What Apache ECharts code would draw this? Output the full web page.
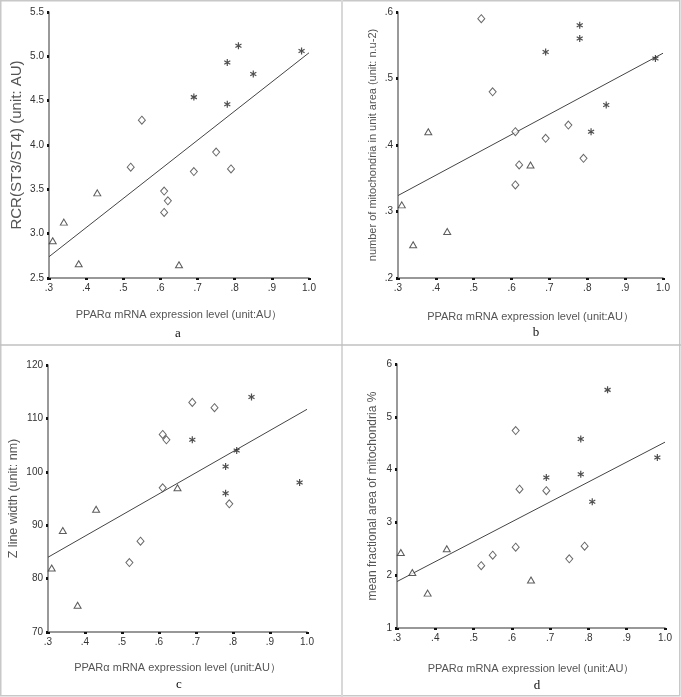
<!DOCTYPE html>
<html>
<head>
<meta charset="utf-8">
<script src="https://cdn.jsdelivr.net/npm/echarts@6/dist/echarts.min.js"></script>
<style>
html,body{margin:0;padding:0;background:#fff;}
#chart{width:681px;height:697px;}
</style>
</head>
<body>
<div id="chart"></div>
<script>
// ---------- data ----------
const xRange = [0.3, 1.0, 0.1];
const xTitle = 'PPARα mRNA expression level (unit:AU）';

// panel a : RCR
const aRange = [2.5, 5.5, 0.5];
const aTri  = [[0.31,2.92],[0.34,3.13],[0.38,2.66],[0.43,3.46],[0.65,2.65]];
const aDia  = [[0.52,3.75],[0.55,4.28],[0.61,3.48],[0.61,3.24],[0.62,3.37],[0.69,3.70],[0.75,3.92],[0.79,3.73]];
const aStar = [[0.69,4.54],[0.78,4.93],[0.78,4.46],[0.81,5.12],[0.85,4.80],[0.98,5.06]];
const aFit  = [[0.3,2.74],[1.0,5.04]];

// panel b : number of mitochondria
const bRange = [0.2, 0.6, 0.1];
const bTri  = [[0.31,0.31],[0.34,0.25],[0.38,0.42],[0.43,0.27],[0.65,0.37]];
const bDia  = [[0.52,0.59],[0.55,0.48],[0.61,0.42],[0.61,0.34],[0.62,0.37],[0.69,0.41],[0.75,0.43],[0.79,0.38]];
const bStar = [[0.69,0.54],[0.78,0.58],[0.78,0.56],[0.81,0.42],[0.85,0.46],[0.98,0.53]];
const bFit  = [[0.3,0.324],[1.0,0.538]];

// panel c : Z line width
const cRange = [70, 120, 10];
const cTri  = [[0.31,82],[0.34,89],[0.38,75],[0.43,93],[0.65,97]];
const cDia  = [[0.52,83],[0.55,87],[0.61,107],[0.62,106],[0.61,97],[0.69,113],[0.75,112],[0.79,94]];
const cStar = [[0.69,106],[0.78,101],[0.78,96],[0.81,104],[0.85,114],[0.98,98]];
const cFit  = [[0.3,84],[1.0,111.7]];

// panel d : mean fractional area
const dRange = [1, 6, 1];
const dTri  = [[0.31,2.43],[0.34,2.05],[0.38,1.66],[0.43,2.50],[0.65,1.91]];
const dDia  = [[0.52,2.18],[0.55,2.38],[0.61,4.74],[0.61,2.53],[0.62,3.63],[0.69,3.60],[0.75,2.31],[0.79,2.55]];
const dStar = [[0.69,3.85],[0.78,4.58],[0.78,3.91],[0.81,3.39],[0.85,5.51],[0.98,4.23]];
const dFit  = [[0.3,1.88],[1.0,4.52]];

const yTitles = ['RCR(ST3/ST4) (unit: AU)','number of mitochondria in unit area (unit: n.u-2)','Z line width (unit: nm)','mean fractional area of mitochondria %'];
const panelLetters = ['a','b','c','d'];

// ---------- layout ----------
const grids = [
  {left:49, top:12, width:260, height:266},
  {left:398, top:12, width:265, height:266},
  {left:48, top:365, width:259, height:267},
  {left:397, top:364, width:268, height:264}
];
const yTitleSize = [15, 11, 12.5, 12];
const yNameGap = [25, 20, 28, 18];
const xNameGap = [31, 33, 30, 35];
const letterPos = [[178,334],[536,333],[179,685],[537,686]];

const ranges = [aRange,bRange,cRange,dRange];
const panels = [[aTri,aDia,aStar,aFit],[bTri,bDia,bStar,bFit],[cTri,cDia,cStar,cFit],[dTri,dDia,dStar,dFit]];

const FONT = 'Liberation Sans';
function stripZero(s){ return s.replace(/^0\./,'.'); }
const yFormatters = [
  v => v.toFixed(1),
  v => stripZero(v.toFixed(1)),
  v => String(Math.round(v)),
  v => String(Math.round(v))
];

const axisLine = {lineStyle:{color:'#777', width:1.5}};
const axisTick = {show:true, length:2, inside:false, lineStyle:{color:'#111', width:3}};

const xAxes = [], yAxes = [], series = [];
const starPath = 'path://M0,-10L0,10M-8.66,-5L8.66,5M-8.66,5L8.66,-5';

for (let i=0;i<4;i++){
  xAxes.push({
    type:'value', gridIndex:i, min:xRange[0], max:xRange[1], interval:xRange[2],
    axisLine, axisTick, splitLine:{show:false},
    axisLabel:{fontFamily:FONT, fontSize:10, color:'#333', margin:5,
      formatter: v => stripZero(v.toFixed(1))},
    name:xTitle, nameLocation:'middle', nameGap:xNameGap[i],
    nameTextStyle:{fontFamily:FONT, fontSize:11, color:'#555'}
  });
  const r = ranges[i];
  yAxes.push({
    type:'value', gridIndex:i, min:r[0], max:r[1], interval:r[2],
    axisLine, axisTick, splitLine:{show:false},
    axisLabel:{fontFamily:FONT, fontSize:10, color:'#333', margin:5, formatter:yFormatters[i]},
    name:yTitles[i], nameLocation:'middle', nameGap:yNameGap[i],
    nameTextStyle:{fontFamily:FONT, fontSize:yTitleSize[i], color:'#555'}
  });
  const [tri,dia,star,fit] = panels[i];
  series.push({
    type:'line', xAxisIndex:i, yAxisIndex:i, data:fit, showSymbol:false, symbol:'none',
    lineStyle:{color:'#444', width:1}, silent:true, z:1
  });
  series.push({
    type:'scatter', xAxisIndex:i, yAxisIndex:i, data:tri, symbol:'triangle', symbolSize:[7,6],
    itemStyle:{color:'#fff', borderColor:'#333', borderWidth:1}, z:3
  });
  series.push({
    type:'scatter', xAxisIndex:i, yAxisIndex:i, data:dia, symbol:'diamond', symbolSize:[7,8],
    itemStyle:{color:'#fff', borderColor:'#444', borderWidth:1}, z:3
  });
  series.push({
    type:'scatter', xAxisIndex:i, yAxisIndex:i, data:star, symbol:starPath, symbolSize:[7,7],
    symbolKeepAspect:true,
    itemStyle:{color:'none', borderColor:'#222', borderWidth:1.2}, z:3
  });
}

const graphics = [
  {type:'rect', shape:{x:0.75, y:0.75, width:679, height:695}, style:{fill:'none', stroke:'#c8c8c8', lineWidth:1.5}, silent:true},
  {type:'line', shape:{x1:342, y1:0, x2:342, y2:697}, style:{stroke:'#d8d8d8', lineWidth:2}, silent:true},
  {type:'line', shape:{x1:0, y1:345, x2:681, y2:345}, style:{stroke:'#c0c0c0', lineWidth:1.5}, silent:true}
];
for (let i=0;i<4;i++){
  graphics.push({type:'text', x:letterPos[i][0], y:letterPos[i][1],
    style:{text:panelLetters[i], font:'13px "Liberation Serif"', fill:'#111', align:'center', verticalAlign:'middle'}, silent:true});
}

const chart = echarts.init(document.getElementById('chart'), null, {renderer:'canvas'});
chart.setOption({
  animation:false,
  grid:grids,
  xAxis:xAxes,
  yAxis:yAxes,
  series:series,
  graphic:graphics
});
</script>
</body>
</html>
